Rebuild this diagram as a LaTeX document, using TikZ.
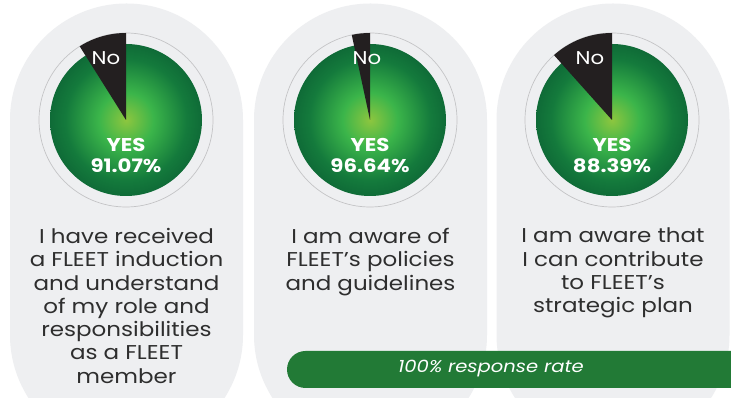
\documentclass[tikz,border=0pt]{standalone}
\usepackage{fontspec}
\setmainfont{Poppins}[FakeStretch=1.15]
\definecolor{pillgray}{HTML}{EEEFF1}
\definecolor{ringgray}{HTML}{C4C4C6}
\definecolor{wedgeblack}{HTML}{231F20}
\definecolor{glight}{HTML}{8DC63F}
\definecolor{gmid}{HTML}{3BB54A}
\definecolor{gdark}{HTML}{147A3C}
\definecolor{gedge}{HTML}{0F6B37}
\definecolor{bargreen}{HTML}{227A36}
\definecolor{bodytext}{HTML}{2E2E2E}
\pgfdeclareradialshading{greenball}{\pgfpoint{0bp}{0bp}}{color(0bp)=(glight); color(9bp)=(gmid); color(20bp)=(gdark); color(25bp)=(gedge); color(50bp)=(gedge)}
\begin{document}
\begin{tikzpicture}[x=1pt,y=1pt,
  pill/.style={fill=pillgray},
  ring/.style={draw=ringgray, line width=0.7pt},
  ball/.style={shading=greenball},
  wedge/.style={fill=wedgeblack},
  nolabel/.style={text=white, font=\fontsize{18.5}{22}\selectfont, inner sep=0pt},
  yeslabel/.style={text=white, font=\bfseries\fontsize{18.5}{21}\selectfont, align=center, inner sep=0pt},
  body/.style={text=bodytext, font=\fontsize{20}{23.3}\selectfont, align=center, inner sep=0pt, anchor=north},
  bartext/.style={text=white, font=\itshape\fontsize{17}{20}\selectfont, inner sep=0pt}]
\useasboundingbox (0,0) rectangle (731,398);
\clip (0,0) rectangle (731,398);
\fill[white] (0,0) rectangle (731,398);
% pills
\foreach \cx in {126.5,370.5,613}{
  \fill[pill] (\cx-116.5,63) -- (\cx-116.5,278) arc[start angle=180,end angle=0,radius=116.5]
    -- (\cx+116.5,63) arc[start angle=0,end angle=-180,radius=116.5] -- cycle;
}
% pie centres
\coordinate (c1) at (126,278);
\coordinate (c2) at (370,278);
\coordinate (c3) at (612,278);
% pie 1
\draw[ring] (c1) circle (87);
\shade[ball] (c1) circle (76);
\fill[wedge] (c1) -- ++(90:87) arc[start angle=90,end angle=122.15,radius=87] -- cycle;
% pie 2
\draw[ring] (c2) circle (87);
\shade[ball] (c2) circle (76);
\fill[wedge] (c2) -- ++(90:87) arc[start angle=90,end angle=102.1,radius=87] -- cycle;
% pie 3
\draw[ring] (c3) circle (87);
\shade[ball] (c3) circle (76);
\fill[wedge] (c3) -- ++(90:87) arc[start angle=90,end angle=131.8,radius=87] -- cycle;
% No labels
\node[nolabel] (no1) at (106,340) {No};
\node[nolabel] (no2) at (367,340) {No};
\node[nolabel] (no3) at (590,340) {No};
% YES labels
\node[yeslabel] (yes1) at (126,242.5) {YES\\91.07\%};
\node[yeslabel] (yes2) at (370,242.5) {YES\\96.64\%};
\node[yeslabel] (yes3) at (612,242.5) {YES\\88.39\%};
% statements
\node[body] (t1) at (126.5,170) {I have received\\a FLEET induction\\and understand\\of my role and\\responsibilities\\as a FLEET\\member};
\node[body] (t2) at (370.5,170) {I am aware of\\FLEET’s policies\\and guidelines};
\node[body] (t3) at (613,170) {I am aware that\\I can contribute\\to FLEET’s\\strategic plan};
% response bar
\fill[bargreen] (731,47) -- (305.5,47) arc[start angle=90,end angle=270,radius=18.5] -- (731,10) -- cycle;
\node[bartext] (bar) at (491,29) {100\% response rate};
\end{tikzpicture}
\end{document}
